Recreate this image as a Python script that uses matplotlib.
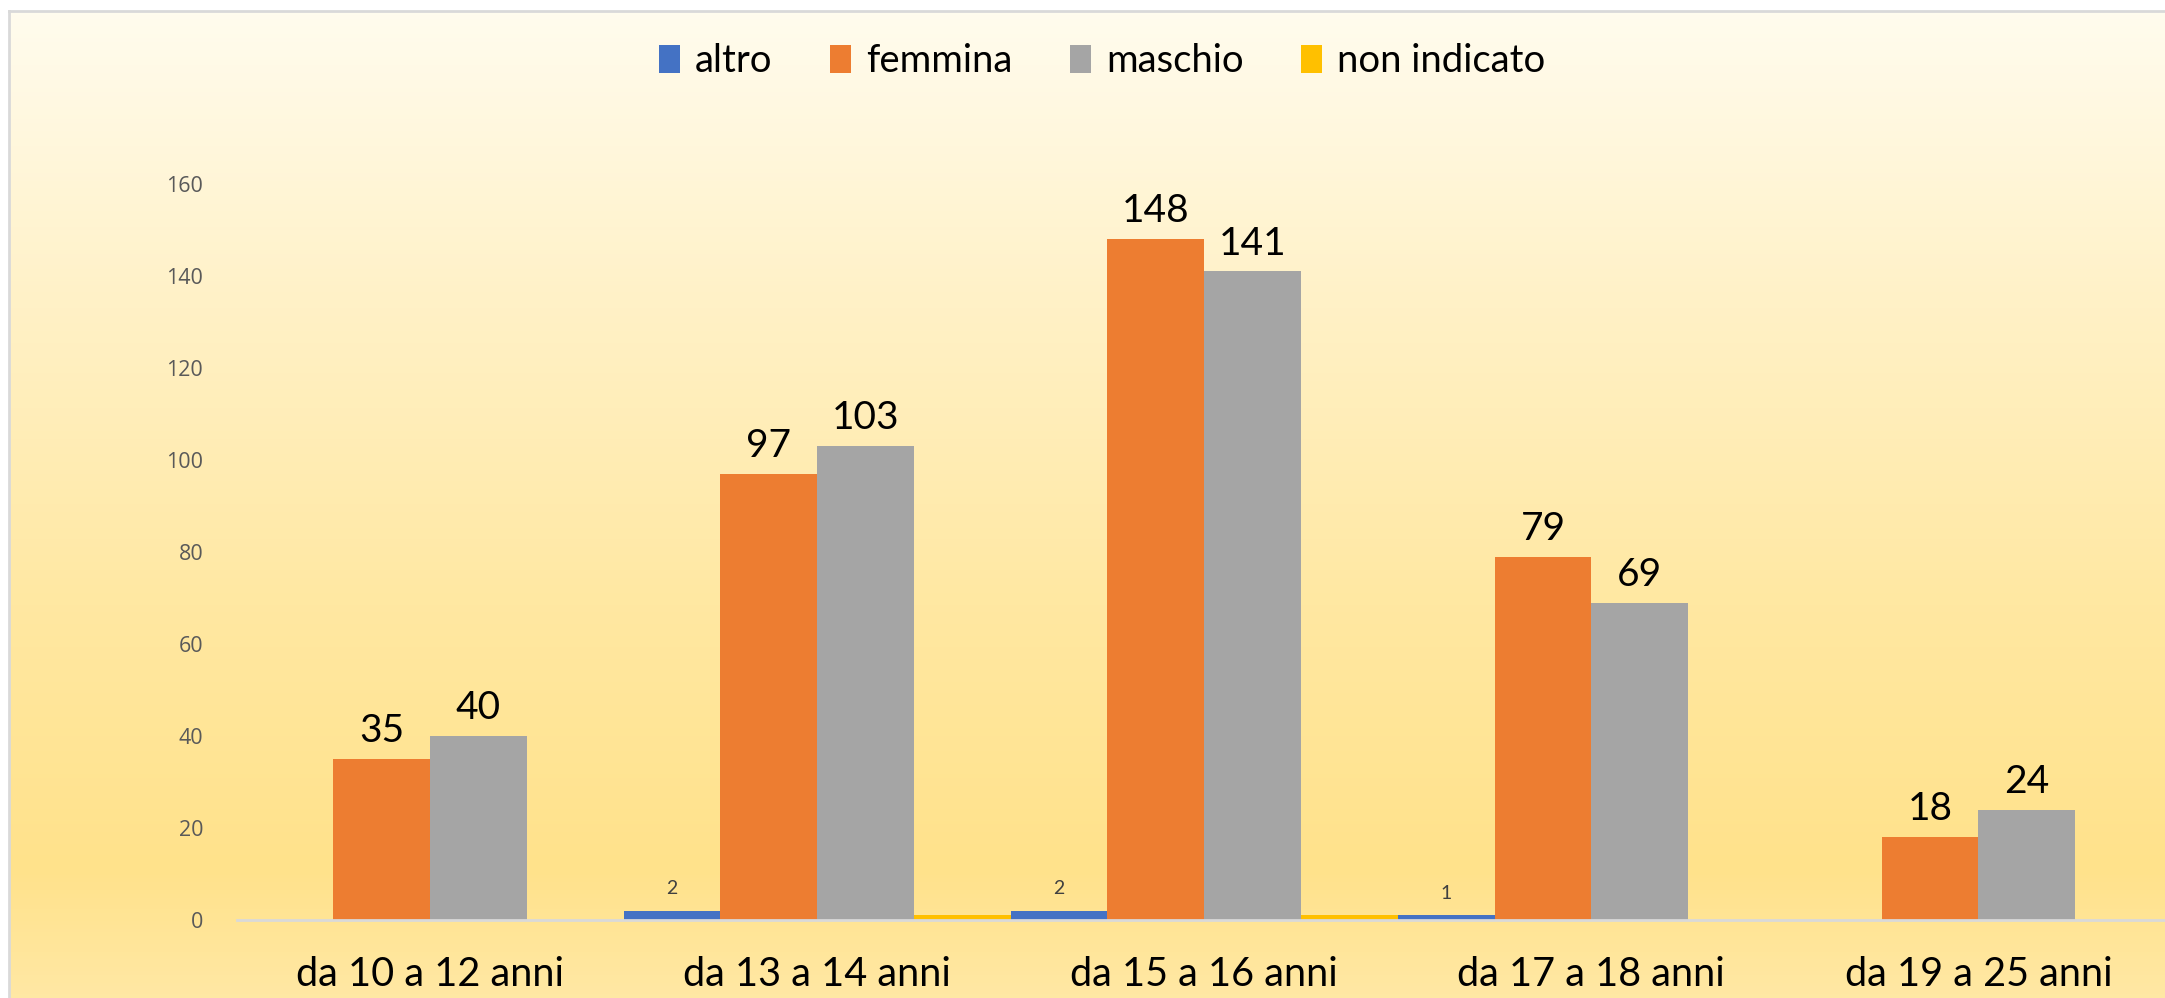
"""
Bar chart: respondents by age group and gender.
"""

import numpy as np
import matplotlib.pyplot as plt
from matplotlib.colors import LinearSegmentedColormap

# data
categories = ['da 10 a 12 anni', 'da 13 a 14 anni', 'da 15 a 16 anni',
              'da 17 a 18 anni', 'da 19 a 25 anni']
altro = [0, 2, 2, 1, 0]
femmina = [35, 97, 148, 79, 18]
maschio = [40, 103, 141, 69, 24]
non_indicato = [0, 1, 1, 0, 0]

series = [('altro', altro, '#4472C4'),
          ('femmina', femmina, '#ED7D31'),
          ('maschio', maschio, '#A5A5A5'),
          ('non indicato', non_indicato, '#FFC000')]

W, H = 2165, 998
fig = plt.figure(figsize=(W / 100, H / 100), dpi=100)
fig.patch.set_facecolor('white')

# gradient chart area background
bg = fig.add_axes([9 / W, 0, 1 - 9 / W, 1 - 11 / H])
cmap = LinearSegmentedColormap.from_list('bg', [
    (0.0, '#FFFCEE'), (0.3, '#FFF1C6'), (0.6, '#FFE8A2'),
    (0.87, '#FFE28B'), (1.0, '#FFE8A4')])
grad = np.linspace(0, 1, 256).reshape(-1, 1)
bg.imshow(grad, aspect='auto', cmap=cmap, extent=[0, 1, 1, 0])
bg.set_xlim(0, 1)
bg.set_ylim(1, 0)
bg.set_xticks([])
bg.set_yticks([])
for side in ['right', 'bottom']:
    bg.spines[side].set_visible(False)
for side in ['left', 'top']:
    bg.spines[side].set_color('#D9D9D9')
    bg.spines[side].set_linewidth(2)

# main plot
ax = fig.add_axes([236.5 / W, 1 - 920 / H, (2172 - 236.5) / W, (920 - 184) / H])
ax.set_facecolor('none')

x = np.arange(len(categories))
width = 0.25
offsets = [-1.5, -0.5, 0.5, 1.5]

for (name, vals, color), off in zip(series, offsets):
    ax.bar(x + off * width, vals, width, color=color, label=name,
           edgecolor='none')
    for xi, v in zip(x + off * width, vals):
        if v == 0:
            continue
        if name in ('femmina', 'maschio'):
            ax.annotate(str(v), (xi, v), xytext=(0, 7), textcoords='offset points',
                        ha='center', va='bottom', fontsize=28, family='Lato',
                        color='black')
        elif name == 'altro':
            ax.annotate(str(v), (xi, v), xytext=(0, 10), textcoords='offset points',
                        ha='center', va='bottom', fontsize=14, family='Lato',
                        color='#404040')

ax.set_xlim(-0.5, len(categories) - 0.5)
ax.set_ylim(0, 160)
ax.set_yticks(range(0, 161, 20))
ax.tick_params(axis='y', length=0, pad=24, labelsize=15.5, labelcolor='#595959')
for lab in ax.get_yticklabels():
    lab.set_family('Open Sans')
ax.set_xticks(x)
ax.set_xticklabels(categories, fontsize=28.5, family='Lato')
ax.tick_params(axis='x', length=0, pad=26)

for side in ['left', 'right', 'top']:
    ax.spines[side].set_visible(False)
ax.spines['bottom'].set_color('#D9D9D9')
ax.spines['bottom'].set_linewidth(2)

fig.legend(loc='center', bbox_to_anchor=(1102 / W, 1 - 61 / H), ncol=4,
           frameon=False, prop={'family': 'Lato', 'size': 27.5},
           handlelength=0.55, handleheight=0.75, handletextpad=0.4,
           columnspacing=1.5)

fig.savefig('out.png', dpi=100)
